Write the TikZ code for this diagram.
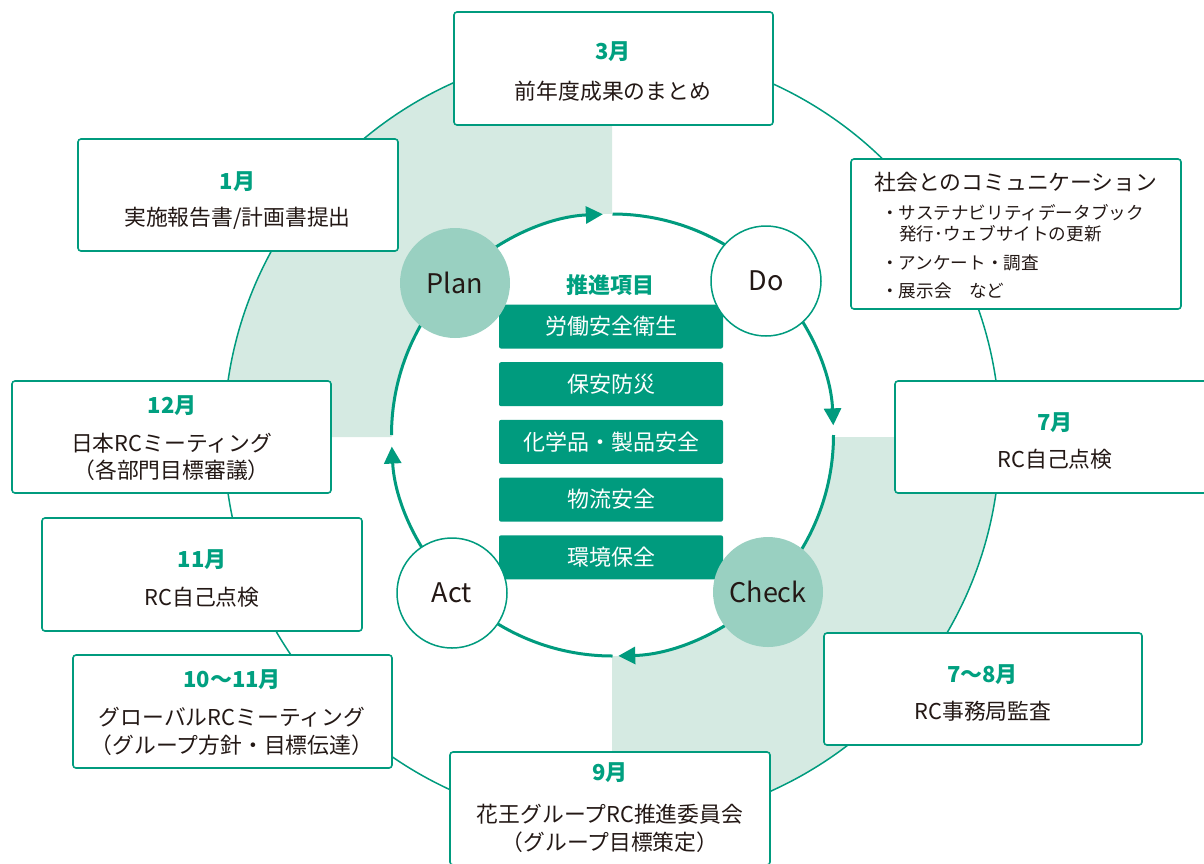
\documentclass[tikz,border=0pt]{standalone}
\usepackage{fontspec}
\setmainfont{Noto Sans CJK JP}
\usetikzlibrary{arrows.meta}
\definecolor{kteal}{HTML}{009B7E}
\definecolor{kgreen}{HTML}{00A080}
\definecolor{kshade}{HTML}{D5EAE2}
\definecolor{kcirc}{HTML}{99D0C1}
\definecolor{ktext}{HTML}{231815}
\begin{document}
\begin{tikzpicture}[x=1pt,y=-1pt,
  box/.style={draw=kteal, line width=1.6pt, fill=white, rounded corners=3pt, inner sep=0pt},
  month/.style={text=kgreen, font=\fontsize{22}{26}\selectfont\bfseries, inner sep=0pt},
  txt/.style={text=ktext, font=\fontsize{21.8}{26}\selectfont, inner sep=0pt},
  small/.style={text=ktext, font=\fontsize{17.6}{21}\selectfont, inner sep=0pt, anchor=west},
  item/.style={fill=kteal, rounded corners=2pt, minimum width=224pt, minimum height=44pt, text=white, font=\fontsize{22}{26}\selectfont, inner sep=0pt},
  pdca/.style={circle, minimum size=110pt, inner sep=0pt, font=\fontsize{27}{30}\selectfont, text=ktext},
  ring/.style={draw=kteal, line width=3pt},
  tipped/.style={-{Triangle[length=17pt,width=17pt]}}
]
\useasboundingbox (0,0) rectangle (1204,863);
\coordinate (O) at (612,437);
\coordinate (R) at (612.5,435);
% shaded quadrants
\fill[kshade] (O) -- ++(-388,0) arc[start angle=180,end angle=270,radius=388] -- cycle;
\fill[kshade] (O) -- ++(388,0) arc[start angle=0,end angle=90,radius=388] -- cycle;
\fill[white] (R) circle[radius=221];
% outer circle
\draw[kteal, line width=1.5pt] (O) circle[radius=388];
% inner ring
\draw[ring,tipped] ([shift={(225:221)}]R) arc[start angle=225,end angle=267.5,radius=221];
\draw[ring] ([shift={(270:221)}]R) arc[start angle=270,end angle=315,radius=221];
\draw[ring,tipped] ([shift={(315:221)}]R) arc[start angle=315,end angle=357.5,radius=221];
\draw[ring] ([shift={(0:221)}]R) arc[start angle=0,end angle=45,radius=221];
\draw[ring,tipped] ([shift={(45:221)}]R) arc[start angle=45,end angle=88.5,radius=221];
\draw[ring] ([shift={(90:221)}]R) arc[start angle=90,end angle=135,radius=221];
\draw[ring,tipped] ([shift={(135:221)}]R) arc[start angle=135,end angle=177,radius=221];
\draw[ring] ([shift={(180:221)}]R) arc[start angle=180,end angle=225,radius=221];
% boxes
\node[box, minimum width=319pt, minimum height=113pt] (b3) at (613.5,68.5) {};
\node[month] (m3) at (613,52) {3月};
\node[txt] (t3) at (613,91) {前年度成果のまとめ};

\node[box, minimum width=320pt, minimum height=112pt] (b1) at (238,195) {};
\node[month] (m1) at (237.5,182) {1月};
\node[txt] (t1) at (237.5,218) {実施報告書/計画書提出};

\node[box, minimum width=330pt, minimum height=150pt] (bs) at (1016,234) {};
\node[txt] (ts) at (1016,182) {社会とのコミュニケーション};
\node[small] (s1) at (881,213) {・サステナビリティデータブック};
\node[small] (s2) at (899,234) {発行･ウェブサイトの更新};
\node[small] (s3) at (881,263) {・アンケート・調査};
\node[small] (s4) at (881,291) {・展示会　など};

\node[box, minimum width=320pt, minimum height=112pt] (b7) at (1055,437) {};
\node[month] (m7) at (1055,423) {7月};
\node[txt] (t7) at (1055,459) {RC自己点検};

\node[box, minimum width=318pt, minimum height=112pt] (b78) at (983,689) {};
\node[month] (m78) at (982.5,675) {7〜8月};
\node[txt] (t78) at (983,711) {RC事務局監査};

\node[box, minimum width=320pt, minimum height=113pt] (b9) at (610,808.5) {};
\node[month] (m9) at (610,773) {9月};
\node[txt] (t9a) at (610,814) {花王グループRC推進委員会};
\node[txt] (t9b) at (610,842) {（グループ目標策定）};

\node[box, minimum width=319pt, minimum height=113pt] (b1011) at (232.5,711.5) {};
\node[month] (m1011) at (232,680) {10〜11月};
\node[txt] (t1011a) at (232,717) {グローバルRCミーティング};
\node[txt] (t1011b) at (232,745) {（グループ方針・目標伝達）};

\node[box, minimum width=320pt, minimum height=113pt] (b11) at (202,574.5) {};
\node[month] (m11) at (202,560) {11月};
\node[txt] (t11) at (202,597) {RC自己点検};

\node[box, minimum width=319pt, minimum height=112pt] (b12) at (171.5,437) {};
\node[month] (m12) at (172,406) {12月};
\node[txt] (t12a) at (171.5,443) {日本RCミーティング};
\node[txt] (t12b) at (171.5,470) {（各部門目標審議）};

% promotion items
\node[month] (head) at (610,285) {推進項目};
\node[item] (i1) at (611,326.5) {労働安全衛生};
\node[item] (i2) at (611,384.2) {保安防災};
\node[item] (i3) at (611,441.9) {化学品・製品安全};
\node[item] (i4) at (611,499.6) {物流安全};
\node[item] (i5) at (611,557.3) {環境保全};

% PDCA circles
\node[pdca, fill=kcirc] (plan) at (455,283) {Plan};
\node[pdca, fill=white, draw=kteal, line width=1.5pt] (do) at (766,281) {Do};
\node[pdca, fill=kcirc] (check) at (768,592) {Check};
\node[pdca, fill=white, draw=kteal, line width=1.5pt] (act) at (452,593) {Act};
\end{tikzpicture}
\end{document}
